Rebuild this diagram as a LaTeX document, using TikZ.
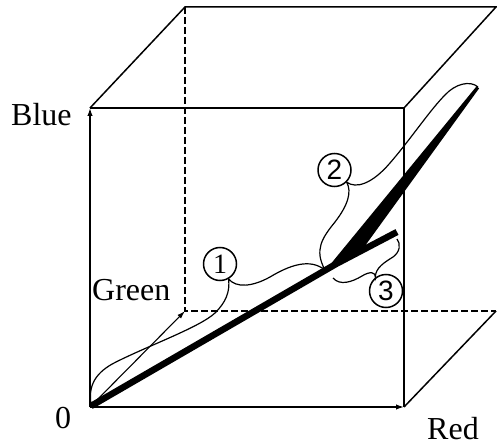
\documentclass[tikz,border=0pt]{standalone}
\usepackage{fontspec}
\setmainfont{Liberation Serif}
\newfontfamily\digsans{Liberation Sans}
\usetikzlibrary{arrows.meta}
\begin{document}
\begin{tikzpicture}[x=1pt,y=-1pt,
  edge/.style={line width=1.5pt},
  hidden/.style={line width=1.5pt,dash pattern=on 7pt off 3pt},
  axis/.style={line width=1.5pt,-{Latex[length=8pt,width=5.5pt]}},
  garrow/.style={line width=1.1pt,-{Latex[length=8pt,width=5pt]}},
  lbl/.style={font=\fontsize{32}{34}\selectfont,inner sep=0pt,anchor=base west},
  num/.style={circle,draw,line width=1.5pt,minimum size=33pt,inner sep=0pt,font=\fontsize{28}{28}\selectfont},
  brace/.style={line width=1.2pt},
  heavy/.style={line width=6.5pt}]
\useasboundingbox (0,0) rectangle (497,446);
\fill[white] (0,0) rectangle (497,446);
% cube corners
\coordinate (O) at (90,407);
\coordinate (B) at (90,108);
\coordinate (R) at (404,407);
\coordinate (FTR) at (404,108);
\coordinate (G) at (185,311);
\coordinate (BTL) at (185,7);
\coordinate (BTR) at (496,7);
\coordinate (BBR) at (496,311);
% cube
\draw[edge] (B) -- (FTR) -- (R);
\draw[edge] (B) -- (BTL) -- (BTR) -- (FTR);
\draw[edge] (R) -- (BBR);
\draw[hidden] (BTL) -- (G) -- (BBR);
% axes
\draw[axis] (O) -- (B);
\draw[axis] (O) -- (R);
\draw[garrow] (O) -- (G);
% labels
\node[lbl] (blue) at (11,126) {Blue};
\node[lbl] (green) at (92,300) {Green};
\node[lbl] (zero) at (55,428) {0};
\node[lbl] (red) at (427,439) {Red};
% thick lines
\coordinate (J) at (336,264);
\coordinate (E3) at (397,232);
\coordinate (E2) at (478,87);
\draw[heavy] (91,406) -- (J) -- (E3);
\fill (327,268.5) -- (476.8,86) -- (479,88.5) -- (362,250) -- cycle;
% numbered circles
\node[num] (n1) at (220,264) {1};
\node[num,font=\fontsize{28}{28}\digsans] (n2) at (334.5,170) {2};
\node[num,font=\fontsize{28}{28}\digsans] (n3) at (386,291) {3};
% braces
\draw[brace] (91,404) .. controls (88,385) and (96,372) .. (116,362)
  .. controls (150,345) and (200,327) .. (215,313)
  .. controls (226,302) and (230,292) .. (n1.-60)
  .. controls (236,288) and (252,287) .. (270,277)
  .. controls (290,265) and (310,258) .. (325,270);
\draw[brace] (325,270) .. controls (314,250) and (322,238) .. (335,222)
  .. controls (348,205) and (352,192) .. (n2.-45)
  .. controls (356,189) and (372,184) .. (390,163)
  .. controls (410,140) and (430,110) .. (445,95)
  .. controls (455,84) and (470,80) .. (E2);
\draw[brace] (333,278) .. controls (340,286) and (352,282) .. (362,276)
  .. controls (370,271) and (376,272) .. (n3.128)
  .. controls (375,268) and (385,262) .. (393,257)
  .. controls (400,252) and (401,244) .. (397,239);
\end{tikzpicture}
\end{document}
